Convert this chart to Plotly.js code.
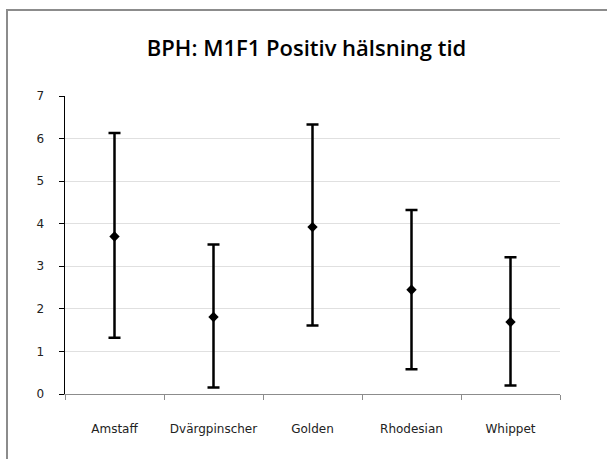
<!DOCTYPE html>
<html>
<head>
<meta charset="utf-8">
<script src="https://cdn.plot.ly/plotly-3.0.1.min.js"></script>
<style>
  html, body { margin: 0; padding: 0; background: #ffffff; }
  #frame { position: absolute; left: 6px; top: 9px; width: 700px; height: 600px;
           border-left: 2px solid #8c8c8c; border-top: 2px solid #8c8c8c; }
  #chart { position: absolute; left: 0; top: 0; width: 607px; height: 459px; }
</style>
</head>
<body>
<div id="frame"></div>
<div id="chart"></div>
<script>
const categories = ["Amstaff", "Dvärgpinscher", "Golden", "Rhodesian", "Whippet"];
const meanValues = [3.70, 1.81, 3.92, 2.45, 1.69];
const upperValues = [6.13, 3.51, 6.33, 4.32, 3.21];
const lowerValues = [1.32, 0.15, 1.61, 0.58, 0.20];
const yTickValues = [0, 1, 2, 3, 4, 5, 6, 7];
const chartTitle = "BPH: M1F1 Positiv hälsning tid";

const errPlus = upperValues.map((u, i) => +(u - meanValues[i]).toFixed(2));
const errMinus = lowerValues.map((l, i) => +(meanValues[i] - l).toFixed(2));

const trace = {
  type: "scatter",
  mode: "markers",
  x: categories,
  y: meanValues,
  marker: { symbol: "diamond", size: 8, color: "#000000" },
  error_y: {
    type: "data",
    symmetric: false,
    array: errPlus,
    arrayminus: errMinus,
    color: "#000000",
    thickness: 2.5,
    width: 6
  },
  hoverinfo: "x+y"
};

const layout = {
  width: 607,
  height: 459,
  paper_bgcolor: "rgba(0,0,0,0)",
  plot_bgcolor: "rgba(0,0,0,0)",
  margin: { l: 65, r: 47, t: 96, b: 65 },
  showlegend: false,
  title: {
    text: chartTitle,
    font: { family: "Open Sans, Liberation Sans, sans-serif", size: 22, color: "#000000", weight: 600 },
    x: 0.505,
    xanchor: "center",
    y: 0.895,
    yanchor: "middle"
  },
  xaxis: {
    type: "category",
    range: [-0.5, 4.5],
    tickson: "boundaries",
    ticks: "outside",
    ticklen: 5,
    tickcolor: "#8c8c8c",
    showline: true,
    linecolor: "#8c8c8c",
    linewidth: 1,
    showgrid: false,
    zeroline: false,
    ticklabelstandoff: 24,
    tickfont: { family: "DejaVu Sans, Tahoma, sans-serif", size: 12, color: "#222222" }
  },
  yaxis: {
    range: [0, 7],
    tickvals: yTickValues,
    ticktext: yTickValues.map(String),
    ticks: "outside",
    ticklen: 5,
    tickcolor: "#000000",
    showline: true,
    linecolor: "#000000",
    linewidth: 1.5,
    showgrid: true,
    gridcolor: "#e0e0e0",
    gridwidth: 1,
    zeroline: false,
    ticklabelstandoff: 12,
    tickfont: { family: "DejaVu Sans, Tahoma, sans-serif", size: 12, color: "#222222" }
  }
};

Plotly.newPlot("chart", [trace], layout, { displayModeBar: false, staticPlot: true });
</script>
</body>
</html>
